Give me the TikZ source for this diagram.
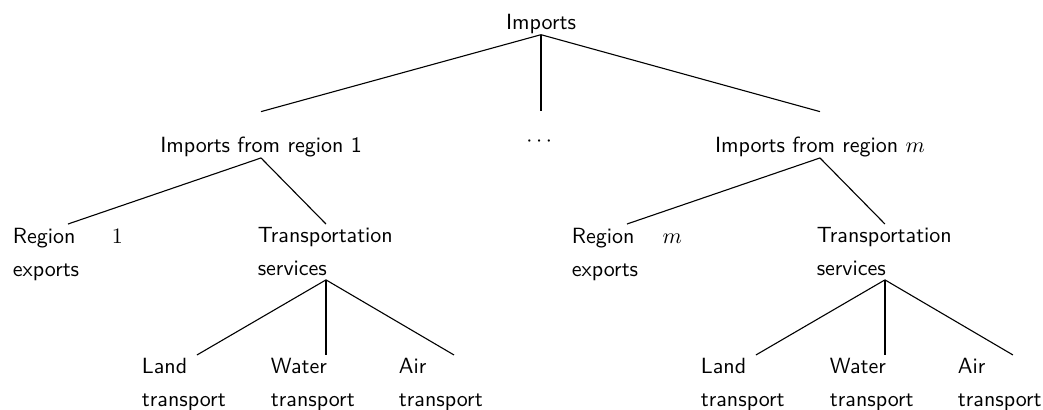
\documentclass[tikz,border=0pt]{standalone}
\usepackage{amsmath,amssymb}
\usepackage{tikz}
\hyphenpenalty=10000
\exhyphenpenalty=10000

\begin{document}
\begin{tikzpicture}[
  every node/.style={font=\fontsize{10}{15}\selectfont\sffamily},
  rnode/.style={inner sep=0pt,anchor=base},
  mnode/.style={inner sep=0pt,text height=18.6pt,anchor=base},
  lnode/.style={inner sep=1.5pt,text width=50pt,align=justify,anchor=north},
  tnode/.style={inner sep=1.5pt,text width=62pt,align=left,anchor=north},
  branch/.style={line width=0.5pt}
]
\useasboundingbox (0,0) rectangle (16.663,-6.55);

% ---- root ----
\node[rnode] (imp) at (8.643,-0.479) {Imports};

% ---- regions ----
\node[mnode] (imp1) at (4.170,-2.444)  {Imports from region 1};
\node[mnode,text height=15.7pt] (dots) at (8.643,-2.34) {$\cdots$};
\node[mnode] (impm) at (13.100,-2.444) {Imports from region $m$};

\draw[branch] (imp.south) -- (imp1.north);
\draw[branch] (imp.south) -- (dots.north);
\draw[branch] (imp.south) -- (impm.north);

% ---- region 1 ----
\node[lnode] (reg1)   at (1.086,-3.579) {Region\hfill$1$\\exports};
\node[tnode] (trans1) at (5.208,-3.579) {Transportation services};
\node[lnode,align=left] (land1)  at (3.147,-5.671) {Land transport};
\node[lnode,align=left] (water1) at (5.208,-5.671) {Water transport};
\node[lnode,align=left] (air1)   at (7.253,-5.671) {Air transport};

\draw[branch] (imp1.south) -- (reg1.north);
\draw[branch] (imp1.south) -- (trans1.north);
\draw[branch] (trans1.south) -- (land1.north);
\draw[branch] (trans1.south) -- (water1.north);
\draw[branch] (trans1.south) -- (air1.north);

% ---- region m ----
\node[lnode] (regm)   at (10.016,-3.579) {Region\hfill$m$\\exports};
\node[tnode] (transm) at (14.138,-3.579) {Transportation services};
\node[lnode,align=left] (landm)  at (12.077,-5.671) {Land transport};
\node[lnode,align=left] (waterm) at (14.138,-5.671) {Water transport};
\node[lnode,align=left] (airm)   at (16.183,-5.671) {Air transport};

\draw[branch] (impm.south) -- (regm.north);
\draw[branch] (impm.south) -- (transm.north);
\draw[branch] (transm.south) -- (landm.north);
\draw[branch] (transm.south) -- (waterm.north);
\draw[branch] (transm.south) -- (airm.north);

\end{tikzpicture}
\end{document}
